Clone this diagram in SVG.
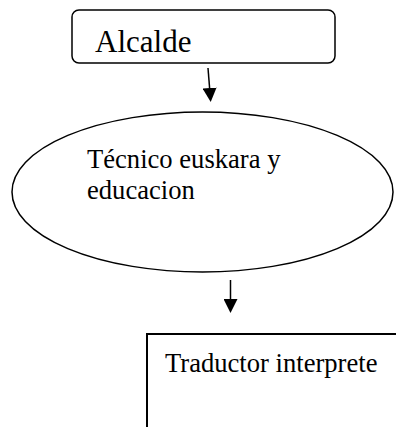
<svg xmlns="http://www.w3.org/2000/svg" width="396" height="427" viewBox="0 0 396 427">
<style>
.shape{fill:#fff;stroke:#000;stroke-width:1.5}
.lbl{font-family:"Liberation Serif","Times New Roman",serif;fill:#000}
.conn{stroke:#000;stroke-width:1.5;fill:none}
</style>
<defs>
<marker id="ah" markerWidth="14" markerHeight="14" refX="0" refY="7" orient="auto" markerUnits="userSpaceOnUse" viewBox="0 0 14 14">
<path d="M0,0 L14,7 L0,14 Z" fill="#000"/>
</marker>
</defs>
<rect width="396" height="427" fill="#fff"/>
<g id="connectors">
<line class="conn" x1="208" y1="68" x2="209.6" y2="88" marker-end="url(#ah)"/>
<line class="conn" x1="230.5" y1="280" x2="230.5" y2="299" marker-end="url(#ah)"/>
</g>
<g id="alcalde">
<rect class="shape" x="72" y="10" width="263" height="53" rx="7"/>
<text class="lbl" x="95" y="52" font-size="31">Alcalde</text>
</g>
<g id="tecnico">
<ellipse class="shape" cx="202.5" cy="192" rx="190.5" ry="80"/>
<text class="lbl" x="87" y="168" font-size="26.6">Técnico euskara y</text>
<text class="lbl" x="87" y="199" font-size="26.6">educacion</text>
</g>
<g id="traductor">
<rect x="147" y="334" width="260" height="110" fill="#fff" stroke="#000" stroke-width="2"/>
<text class="lbl" x="165" y="372" font-size="26.6">Traductor interprete</text>
</g>
</svg>
